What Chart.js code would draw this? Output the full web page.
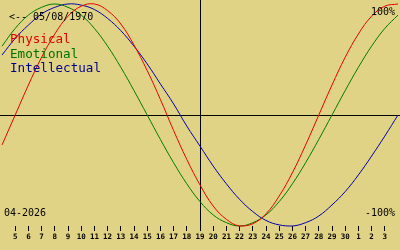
<!DOCTYPE html>
<html>
<head>
<meta charset="utf-8">
<script src="https://cdn.jsdelivr.net/npm/chart.js@4/dist/chart.umd.min.js"></script>
<style>
  html, body { margin: 0; padding: 0; background: #e1d385; }
  #wrap { width: 400px; height: 250px; }
</style>
</head>
<body>
<div id="wrap"><canvas id="bio"></canvas></div>
<script>
// days on screen: 4 April 2026 .. 4 May 2026
const dayLabels = ['4','5','6','7','8','9','10','11','12','13','14','15','16','17','18','19',
                   '20','21','22','23','24','25','26','27','28','29','30','1','2','3','4'];

const physical = [-0.27, 0, 0.27, 0.52, 0.73, 0.89, 0.98, 1.00, 0.94, 0.82, 0.63, 0.40, 0.14, -0.14, -0.40, -0.63,
                  -0.82, -0.94, -1.00, -0.98, -0.89, -0.73, -0.52, -0.27, 0, 0.27, 0.52, 0.73, 0.89, 0.98, 1.00];
const emotional = [0.62, 0.78, 0.90, 0.97, 1.00, 0.97, 0.90, 0.78, 0.62, 0.43, 0.22, 0, -0.22, -0.43, -0.62, -0.78,
                   -0.90, -0.97, -1.00, -0.97, -0.90, -0.78, -0.62, -0.43, -0.22, 0, 0.22, 0.43, 0.62, 0.78, 0.90];
const intellectual = [0.54, 0.69, 0.81, 0.91, 0.97, 1.00, 0.99, 0.95, 0.87, 0.76, 0.62, 0.46, 0.28, 0.10, -0.10, -0.28,
                      -0.46, -0.62, -0.76, -0.87, -0.95, -0.99, -1.00, -0.97, -0.91, -0.81, -0.69, -0.54, -0.37, -0.19, 0];

const todayIndex = 15;           // 19 April
const birthText = '<-- 05/08/1970';
const monthText = '04-2026';
const topText = '100%';
const bottomText = '-100%';

const MONO = "'DejaVu Sans Mono', 'Liberation Mono', monospace";
const series = [
    { label: 'Physical', data: physical, line: '#e80000', text: '#e00000' },
    { label: 'Emotional', data: emotional, line: '#007a00', text: '#007000' },
    { label: 'Intellectual', data: intellectual, line: '#0000a8', text: '#000090' }
];

// cross-hair through today / zero line, plus the corner texts
const bioDecor = {
    id: 'bioDecor',
    beforeDatasetsDraw: (chart) => {
        const c = chart.ctx;
        const x = chart.scales.x, y = chart.scales.y;
        const a = chart.chartArea;
        c.save();
        c.strokeStyle = '#000';
        c.lineWidth = 1;
        const y0 = Math.round(y.getPixelForValue(0)) + 0.5;
        c.beginPath();
        c.moveTo(0, y0);
        c.lineTo(chart.width, y0);
        c.stroke();
        const xt = Math.round(x.getPixelForValue(todayIndex)) + 0.5;
        c.beginPath();
        c.moveTo(xt, 0);
        c.lineTo(xt, a.bottom);
        c.stroke();
        c.restore();
    },
    afterDatasetsDraw: (chart) => {
        const c = chart.ctx;
        c.save();
        c.textBaseline = 'alphabetic';
        c.fillStyle = '#000';
        c.font = '10px ' + MONO;
        c.textAlign = 'left';
        c.fillText(birthText, 9, 20);
        c.fillText(monthText, 4, 216);
        c.textAlign = 'right';
        c.fillText(topText, 395, 15);
        c.fillText(bottomText, 395, 216);
        c.textAlign = 'left';
        c.font = '12.6px ' + MONO;
        series.forEach((s, i) => {
            c.fillStyle = s.text;
            c.fillText(s.label, 10, 43 + i * 14.5);
        });
        c.restore();
    }
};

new Chart(document.getElementById('bio'), {
    type: 'line',
    data: {
        labels: dayLabels,
        datasets: series.map(s => ({
            label: s.label,
            data: s.data,
            borderColor: s.line,
            borderWidth: 1,
            pointRadius: 0,
            tension: 0.4,
            fill: false,
            clip: 4
        }))
    },
    options: {
        responsive: true,
        maintainAspectRatio: false,
        animation: false,
        layout: { padding: { left: 0, right: 0, top: 0, bottom: 6 } },
        plugins: { legend: { display: false }, tooltip: { enabled: false } },
        scales: {
            x: {
                type: 'category',
                offset: false,
                border: { display: false },
                grid: {
                    drawOnChartArea: false,
                    drawTicks: true,
                    tickLength: 5,
                    lineWidth: 1,
                    color: (ctx) => (ctx.index === 0 || ctx.index === dayLabels.length - 1) ? 'rgba(0,0,0,0)' : '#000'
                },
                ticks: {
                    autoSkip: false,
                    maxRotation: 0,
                    padding: 2,
                    color: '#000',
                    font: { family: MONO, size: 7.5, weight: 'bold' },
                    callback: (v, i) => (i === 0 || i === dayLabels.length - 1) ? '' : dayLabels[i]
                }
            },
            y: { display: false, min: -1, max: 1.036 }
        }
    },
    plugins: [bioDecor]
});
</script>
</body>
</html>
